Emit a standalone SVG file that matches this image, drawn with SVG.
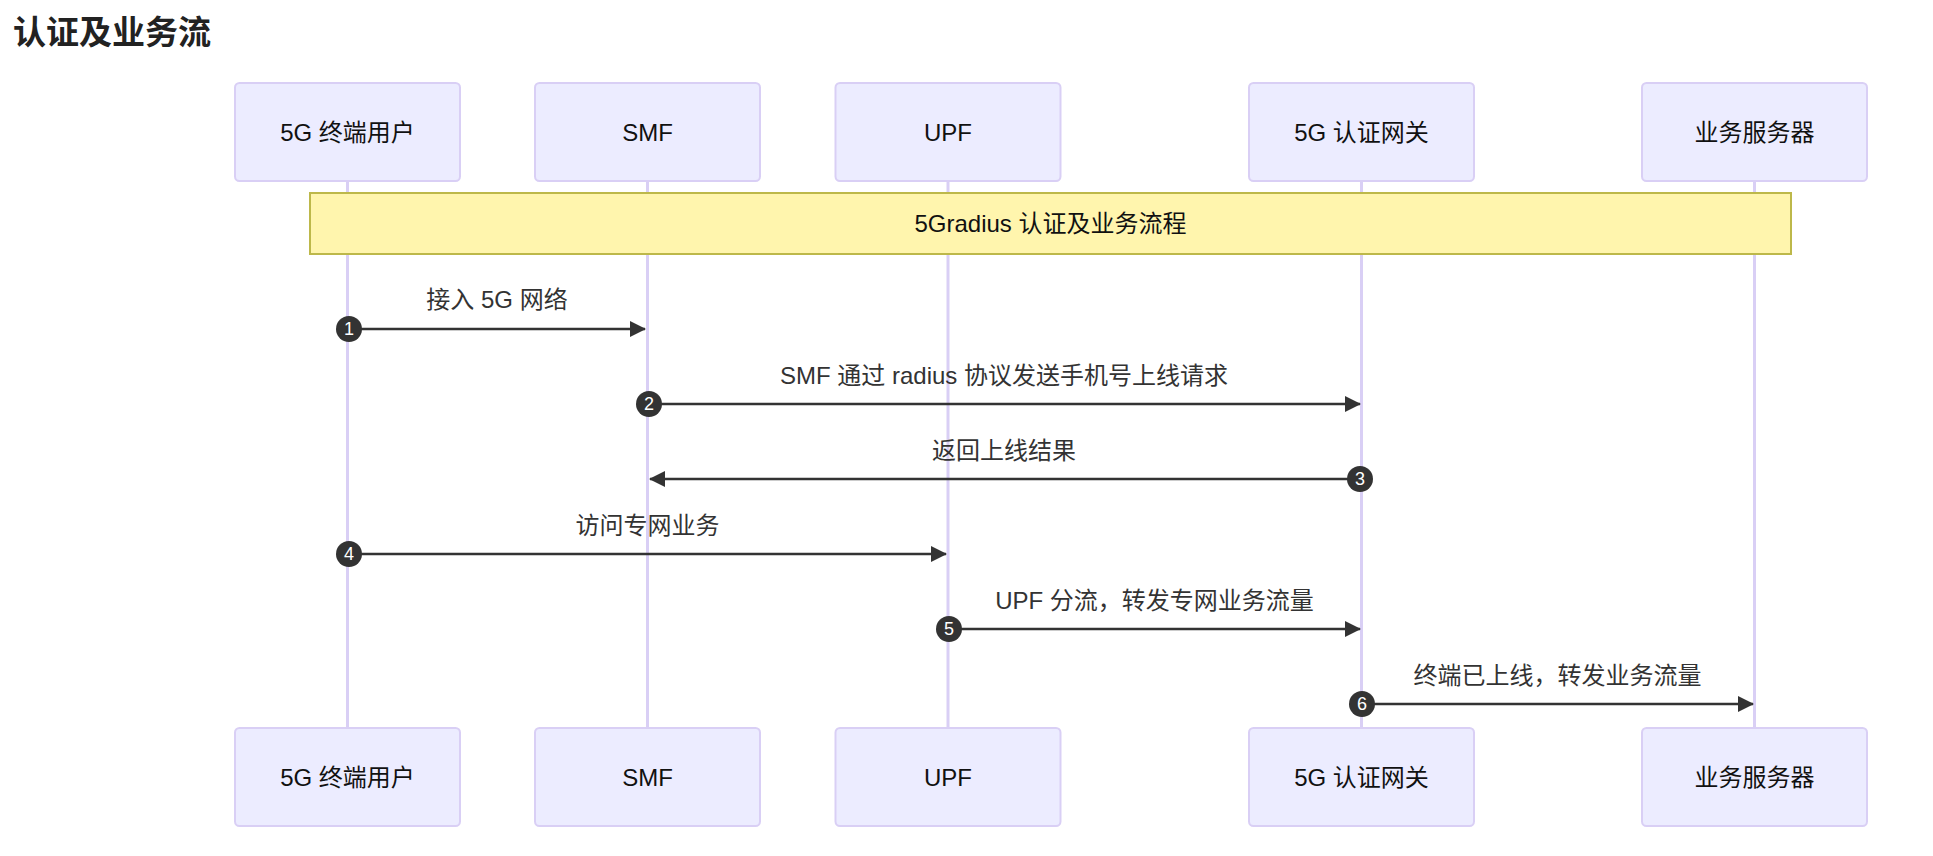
<svg xmlns="http://www.w3.org/2000/svg" width="1933" height="856" viewBox="0 0 1933 856">
<defs>
<style>
.bg{fill:#ffffff}
.title{font-family:"Liberation Sans","Noto Sans CJK SC",sans-serif;font-size:33px;font-weight:bold;fill:#222222}
.actor{fill:#ececff;stroke:#d9cff5;stroke-width:2}
.atext{font-family:"Liberation Sans","Noto Sans CJK SC",sans-serif;font-size:24px;fill:#111111;text-anchor:middle;dominant-baseline:central}
.life{stroke:#d9cff5;stroke-width:3}
.note{fill:#fff5ad;stroke:#bdb84a;stroke-width:2}
.ntext{font-family:"Liberation Sans","Noto Sans CJK SC",sans-serif;font-size:24px;fill:#111111;text-anchor:middle;dominant-baseline:central}
.msg{stroke:#333333;stroke-width:2.5;fill:none}
.mtext{font-family:"Liberation Sans","Noto Sans CJK SC",sans-serif;font-size:24px;fill:#333333;text-anchor:middle;dominant-baseline:central}
.seq{fill:#333333}
.stext{font-family:"Liberation Sans","Noto Sans CJK SC",sans-serif;font-size:18px;fill:#ffffff;text-anchor:middle;dominant-baseline:central}
</style>
<marker id="arrow" viewBox="0 0 16 16" refX="15" refY="8" markerWidth="16" markerHeight="16" markerUnits="userSpaceOnUse" orient="auto">
<path d="M0,0 L16,8 L0,16 z" fill="#333333"/>
</marker>
</defs>
<rect class="bg" x="0" y="0" width="1933" height="856"/>
<text class="title" x="13" y="44">认证及业务流</text>

<g id="lifelines">
<line class="life" x1="347.5" y1="181" x2="347.5" y2="728"/>
<line class="life" x1="647.5" y1="181" x2="647.5" y2="728"/>
<line class="life" x1="948" y1="181" x2="948" y2="728"/>
<line class="life" x1="1361.5" y1="181" x2="1361.5" y2="728"/>
<line class="life" x1="1754.5" y1="181" x2="1754.5" y2="728"/>
</g>

<g id="actor-ue">
<rect class="actor" x="235" y="83" width="225" height="98" rx="4.5"/>
<text class="atext" x="347.5" y="132">5G 终端用户</text>
<rect class="actor" x="235" y="728" width="225" height="98" rx="4.5"/>
<text class="atext" x="347.5" y="777">5G 终端用户</text>
</g>
<g id="actor-smf">
<rect class="actor" x="535" y="83" width="225" height="98" rx="4.5"/>
<text class="atext" x="647.5" y="132">SMF</text>
<rect class="actor" x="535" y="728" width="225" height="98" rx="4.5"/>
<text class="atext" x="647.5" y="777">SMF</text>
</g>
<g id="actor-upf">
<rect class="actor" x="835.5" y="83" width="225" height="98" rx="4.5"/>
<text class="atext" x="948" y="132">UPF</text>
<rect class="actor" x="835.5" y="728" width="225" height="98" rx="4.5"/>
<text class="atext" x="948" y="777">UPF</text>
</g>
<g id="actor-gw">
<rect class="actor" x="1249" y="83" width="225" height="98" rx="4.5"/>
<text class="atext" x="1361.5" y="132">5G 认证网关</text>
<rect class="actor" x="1249" y="728" width="225" height="98" rx="4.5"/>
<text class="atext" x="1361.5" y="777">5G 认证网关</text>
</g>
<g id="actor-srv">
<rect class="actor" x="1642" y="83" width="225" height="98" rx="4.5"/>
<text class="atext" x="1754.5" y="132">业务服务器</text>
<rect class="actor" x="1642" y="728" width="225" height="98" rx="4.5"/>
<text class="atext" x="1754.5" y="777">业务服务器</text>
</g>

<g id="note">
<rect class="note" x="310" y="193" width="1481" height="61"/>
<text class="ntext" x="1050.5" y="223.5">5Gradius 认证及业务流程</text>
</g>

<g id="connectors">
<line class="msg" x1="349" y1="329" x2="645" y2="329" marker-end="url(#arrow)"/>
<text class="mtext" x="497" y="299">接入 5G 网络</text>
<circle class="seq" cx="349" cy="329" r="13"/>
<text class="stext" x="349" y="329">1</text>

<line class="msg" x1="649" y1="404" x2="1360" y2="404" marker-end="url(#arrow)"/>
<text class="mtext" x="1004" y="375">SMF 通过 radius 协议发送手机号上线请求</text>
<circle class="seq" cx="649" cy="404" r="13"/>
<text class="stext" x="649" y="404">2</text>

<line class="msg" x1="1360" y1="479" x2="650" y2="479" marker-end="url(#arrow)"/>
<text class="mtext" x="1004" y="450">返回上线结果</text>
<circle class="seq" cx="1360" cy="479" r="13"/>
<text class="stext" x="1360" y="479">3</text>

<line class="msg" x1="349" y1="554" x2="946" y2="554" marker-end="url(#arrow)"/>
<text class="mtext" x="647.5" y="525">访问专网业务</text>
<circle class="seq" cx="349" cy="554" r="13"/>
<text class="stext" x="349" y="554">4</text>

<line class="msg" x1="949" y1="629" x2="1360" y2="629" marker-end="url(#arrow)"/>
<text class="mtext" x="1154.5" y="600">UPF 分流，转发专网业务流量</text>
<circle class="seq" cx="949" cy="629" r="13"/>
<text class="stext" x="949" y="629">5</text>

<line class="msg" x1="1362" y1="704" x2="1753" y2="704" marker-end="url(#arrow)"/>
<text class="mtext" x="1557.5" y="675">终端已上线，转发业务流量</text>
<circle class="seq" cx="1362" cy="704" r="13"/>
<text class="stext" x="1362" y="704">6</text>
</g>
</svg>
